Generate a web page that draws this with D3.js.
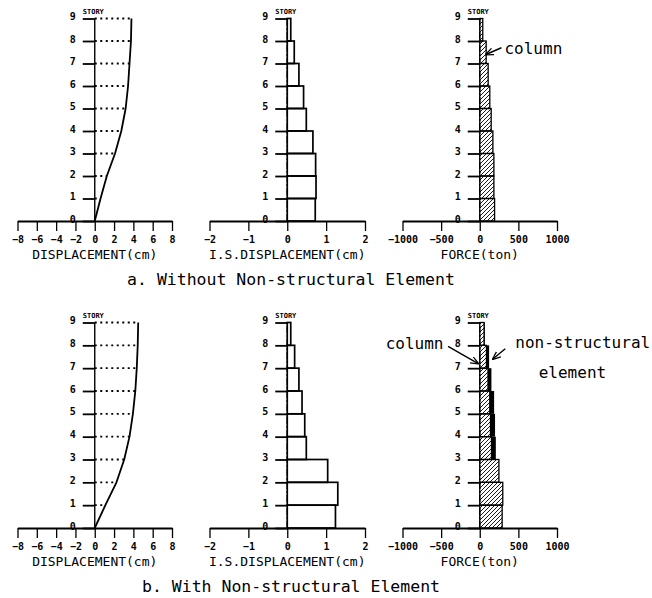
<!DOCTYPE html>
<html>
<head>
<meta charset="utf-8">
<script src="https://cdn.jsdelivr.net/npm/d3@7"></script>
<style>
  body { margin: 0; background: #fff; }
  text { font-family: "DejaVu Sans Mono", monospace; fill: #000; }
</style>
</head>
<body>
<svg id="fig" width="652" height="598"></svg>
<script>
// story levels, band i spans story i-1 .. i
const stories = [0, 1, 2, 3, 4, 5, 6, 7, 8, 9];
const bands = [1, 2, 3, 4, 5, 6, 7, 8, 9];

// a. without non-structural element
const dispA = [0, 0.6, 1.25, 2.1, 2.75, 3.2, 3.45, 3.6, 3.75, 3.8];
const isDispA = [0.72, 0.74, 0.73, 0.66, 0.49, 0.42, 0.30, 0.18, 0.09];
const columnA = [192, 183, 183, 170, 148, 130, 109, 83, 39];
const nonStructA = [0, 0, 0, 0, 0, 0, 0, 0, 0];

// b. with non-structural element
const dispB = [0, 1.1, 2.25, 3.05, 3.6, 3.95, 4.2, 4.35, 4.45, 4.5];
const isDispB = [1.24, 1.30, 1.04, 0.49, 0.45, 0.38, 0.30, 0.19, 0.09];
const columnB = [290, 298, 248, 152, 139, 130, 107, 87, 56];
const nonStructB = [0, 0, 0, 56, 59, 56, 44, 34, 10];

const dispTicks = [-8, -6, -4, -2, 0, 2, 4, 6, 8];
const isTicks = [-2, -1, 0, 1, 2];
const forceTicks = [-1000, -500, 0, 500, 1000];

const svg = d3.select("#fig");

const defs = svg.append("defs");
defs.append("pattern")
  .attr("id", "hatch")
  .attr("patternUnits", "userSpaceOnUse")
  .attr("width", 4)
  .attr("height", 4)
  .append("path")
  .attr("d", "M-1,1 l2,-2 M0,4 l4,-4 M3,5 l2,-2")
  .attr("stroke", "#000")
  .attr("stroke-width", 0.9);

defs.append("marker")
  .attr("id", "arrow")
  .attr("viewBox", "0 -5 10 10")
  .attr("refX", 9)
  .attr("markerWidth", 6)
  .attr("markerHeight", 6)
  .attr("orient", "auto")
  .append("path")
  .attr("d", "M0,-4L10,0L0,4")
  .attr("fill", "none")
  .attr("stroke", "#000")
  .attr("stroke-width", 1.5);

const rows = [
  {y0: 221, y9: 18.5, disp: dispA, isDisp: isDispA, col: columnA, ns: nonStructA,
   title: "a. Without Non-structural Element"},
  {y0: 528, y9: 322.5, disp: dispB, isDisp: isDispB, col: columnB, ns: nonStructB,
   title: "b. With Non-structural Element"}
];

function axes(g, x, y, ticks, label, dashedY) {
  const xa = g.append("g")
    .attr("transform", `translate(0,${y(0)})`)
    .call(d3.axisBottom(x).tickValues(ticks).tickFormat(d3.format("d"))
      .tickSize(10).tickSizeOuter(0).tickPadding(5));
  xa.select(".domain").attr("stroke-width", 1.8);
  xa.selectAll(".tick line").attr("stroke-width", 1.3);
  xa.selectAll(".tick text")
    .attr("font-size", 10).attr("font-weight", "bold")
    .style("font-family", "DejaVu Sans Mono");

  const ya = g.append("g")
    .attr("transform", `translate(${x(0)},0)`)
    .call(d3.axisLeft(y).tickValues(stories).tickSize(12).tickPadding(7));
  ya.select(".domain").remove();
  ya.selectAll(".tick line").attr("stroke-width", 1.8);
  ya.selectAll(".tick text")
    .attr("font-size", 10).attr("font-weight", "bold")
    .attr("dy", "0.1em")
    .style("font-family", "DejaVu Sans Mono");

  g.append("line")
    .attr("x1", x(0)).attr("x2", x(0))
    .attr("y1", y(0)).attr("y2", y(9))
    .attr("stroke", "#000")
    .attr("stroke-width", 1.4)
    .attr("stroke-dasharray", dashedY ? "7,2,2,2" : null);

  g.append("text")
    .attr("x", x(0) - 12).attr("y", y(9) - 5)
    .attr("font-size", 7).attr("font-weight", "bold")
    .text("STORY");

  g.append("text")
    .attr("x", x(0)).attr("y", y(0) + 38)
    .attr("text-anchor", "middle")
    .attr("font-size", 13)
    .text(label);
}

rows.forEach(r => {
  const y = d3.scaleLinear([0, 9], [r.y0, r.y9]);
  const xD = d3.scaleLinear([-8, 8], [17.5, 172]);
  const xI = d3.scaleLinear([-2, 2], [209.5, 365]);
  const xF = d3.scaleLinear([-1000, 1000], [402.5, 557]);

  // displacement
  const g1 = svg.append("g");
  g1.append("g").selectAll("line")
    .data(stories.slice(1))
    .join("line")
    .attr("x1", xD(0)).attr("x2", d => xD(r.disp[d]))
    .attr("y1", d => y(d)).attr("y2", d => y(d))
    .attr("stroke", "#000")
    .attr("stroke-width", 1.8)
    .attr("stroke-dasharray", "2,3.5");
  axes(g1, xD, y, dispTicks, "DISPLACEMENT(cm)", false);
  g1.append("path")
    .datum(stories)
    .attr("fill", "none")
    .attr("stroke", "#000")
    .attr("stroke-width", 1.8)
    .attr("stroke-linejoin", "round")
    .attr("d", d3.line().x(d => xD(r.disp[d])).y(d => y(d)));

  // inter-story displacement
  const g2 = svg.append("g");
  axes(g2, xI, y, isTicks, "I.S.DISPLACEMENT(cm)", true);
  g2.append("g").selectAll("rect")
    .data(bands)
    .join("rect")
    .attr("x", xI(0))
    .attr("y", d => y(d))
    .attr("width", d => xI(r.isDisp[d - 1]) - xI(0))
    .attr("height", d => y(d - 1) - y(d))
    .attr("fill", "none")
    .attr("stroke", "#000")
    .attr("stroke-width", 1.7);

  // force
  const g3 = svg.append("g");
  axes(g3, xF, y, forceTicks, "FORCE(ton)", true);
  g3.append("g").selectAll("rect")
    .data(bands)
    .join("rect")
    .attr("x", xF(0))
    .attr("y", d => y(d))
    .attr("width", d => xF(r.col[d - 1]) - xF(0))
    .attr("height", d => y(d - 1) - y(d))
    .attr("fill", "url(#hatch)")
    .attr("stroke", "#000")
    .attr("stroke-width", 1.3);
  g3.append("g").selectAll("rect")
    .data(bands.filter(d => r.ns[d - 1] > 0))
    .join("rect")
    .attr("x", d => xF(r.col[d - 1]))
    .attr("y", d => y(d))
    .attr("width", d => xF(r.col[d - 1] + r.ns[d - 1]) - xF(r.col[d - 1]))
    .attr("height", d => y(d - 1) - y(d))
    .attr("fill", "#000");

  svg.append("text")
    .attr("x", 291).attr("y", r.y0 + 64)
    .attr("text-anchor", "middle")
    .attr("font-size", 16.5)
    .text(r.title);

  r.scales = {y, xF};
});

// annotations
const topS = rows[0].scales, botS = rows[1].scales;
function arrow(x1, y1, x2, y2) {
  svg.append("line")
    .attr("x1", x1).attr("y1", y1).attr("x2", x2).attr("y2", y2)
    .attr("stroke", "#000").attr("stroke-width", 1.4)
    .attr("marker-end", "url(#arrow)");
}
function note(x, y, s, anchor) {
  svg.append("text")
    .attr("x", x).attr("y", y)
    .attr("dy", "0.35em")
    .attr("text-anchor", anchor)
    .attr("font-size", 16)
    .text(s);
}
note(topS.xF(320), topS.y(7.65), "column", "start");
arrow(topS.xF(280), topS.y(7.7), topS.xF(80), topS.y(7.4));

note(botS.xF(-470), botS.y(8.1), "column", "end");
arrow(botS.xF(-410), botS.y(7.95), botS.xF(-20), botS.y(7.2));
note(botS.xF(460), botS.y(8.15), "non-structural", "start");
note(botS.xF(1200), botS.y(6.8), "element", "middle");
arrow(botS.xF(330), botS.y(7.85), botS.xF(170), botS.y(7.4));
</script>
</body>
</html>
